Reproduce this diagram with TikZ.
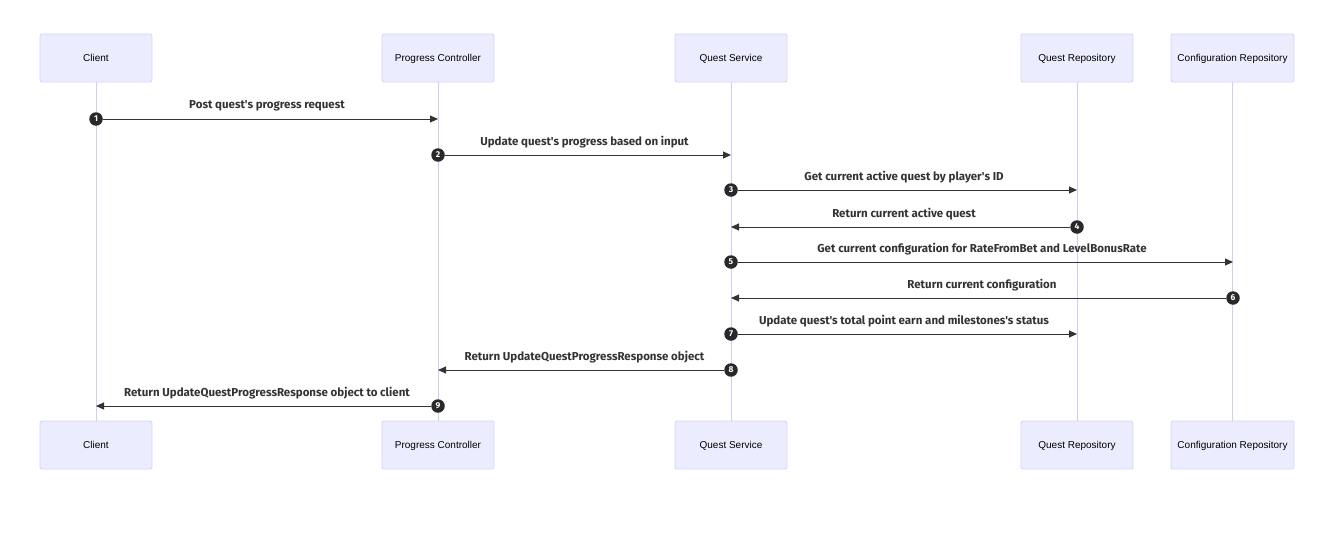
\documentclass[tikz,border=0pt]{standalone}
\usepackage{fontspec}
\setmainfont{Liberation Sans}
\newfontfamily\msgfont{Fira Sans}
\usetikzlibrary{arrows.meta}
\definecolor{actorfill}{HTML}{ECECFF}
\definecolor{actordraw}{HTML}{D4D4FA}
\definecolor{lifeline}{HTML}{CFCFF5}
\definecolor{msgline}{HTML}{333333}
\tikzset{
  actor/.style = {draw = actordraw, fill = actorfill, line width = 0.8pt, rounded corners = 2pt,
                  minimum height = 48pt, inner sep = 0pt, text depth = 0pt, font = \fontsize{10}{12}\selectfont},
  lifeline/.style = {draw = lifeline, line width = 1pt},
  msg/.style = {draw = msgline, line width = 1pt, -{Triangle[length = 8pt, width = 7pt]}},
  msgtext/.style = {font = \msgfont\bfseries\fontsize{11.5}{13}\selectfont, text = msgline},
  stepnum/.style = {circle, fill = msgline!80!black, text = white, inner sep = 0pt, minimum size = 13.5pt,
                    font = \msgfont\bfseries\fontsize{8.5}{9}\selectfont}
}
\begin{document}
\begin{tikzpicture}[x = 1pt, y = -1pt]
\useasboundingbox (0,0) rectangle (1322,538);
% participants, top and bottom
\foreach \name/\x/\w/\label in {client/96/112/Client, ctrl/438/112/Progress Controller,
    service/731/112/Quest Service, questrepo/1077/112/Quest Repository,
    configrepo/1232.5/123/Configuration Repository}{
  \node[actor, minimum width = \w pt] (\name-top) at (\x,58) {\label};
  \node[actor, minimum width = \w pt] (\name-bot) at (\x,445) {\label};
  \draw[lifeline] (\name-top.south) -- (\name-bot.north);
}
% messages
\foreach \i/\src/\dst/\y/\txt in {
    1/96/438/119/{Post quest's progress request},
    2/438/731/155/{Update quest's progress based on input},
    3/731/1077/190/{Get current active quest by player's ID},
    4/1077/731/227/{Return current active quest},
    5/731/1233/262/{Get current configuration for RateFromBet and LevelBonusRate},
    6/1233/731/298/{Return current configuration},
    7/731/1077/334/{Update quest's total point earn and milestones's status},
    8/731/438/370/{Return UpdateQuestProgressResponse object},
    9/438/96/406/{Return UpdateQuestProgressResponse object to client}}{
  \node[stepnum] (num\i) at (\src,\y) {\i};
  \coordinate (tip\i) at (\dst,\y);
  \draw[msg] (num\i) -- (tip\i);
  \node[msgtext] (label\i) at ({(\src+\dst)/2},\y-13) {\txt};
}
\end{tikzpicture}
\end{document}
